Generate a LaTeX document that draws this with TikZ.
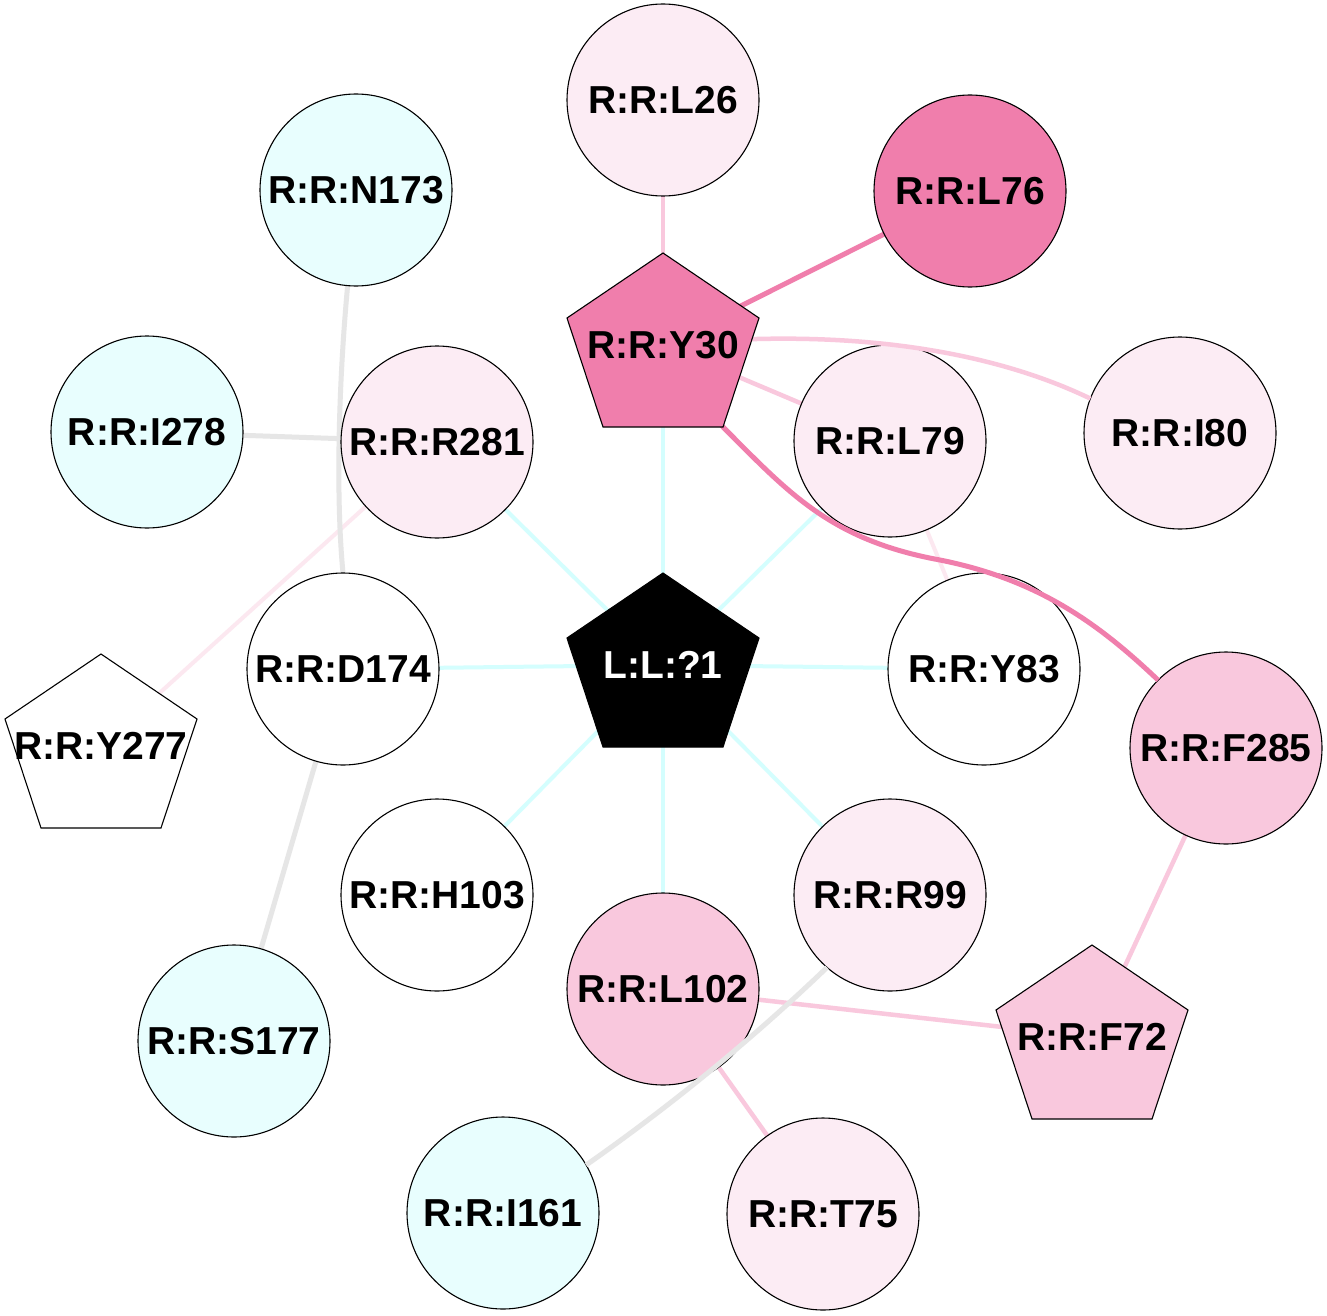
\documentclass[tikz,border=0pt]{standalone}
\usepackage{fontspec}
\setmainfont{Liberation Sans}
\usetikzlibrary{backgrounds,calc}
\definecolor{cfill}{RGB}{232,254,254}
\definecolor{pl}{RGB}{252,236,244}
\definecolor{pm}{RGB}{249,200,221}
\definecolor{pd}{RGB}{240,126,172}
\definecolor{ecyan}{RGB}{212,254,254}
\definecolor{egray}{RGB}{230,230,230}
\definecolor{epale}{RGB}{252,232,240}
\pgfdeclarelayer{bgzero}
\pgfdeclarelayer{fore}
\pgfsetlayers{bgzero,background,main,fore}
\newcommand\drawpent[3]{\draw[pentline,fill=#3,shift={(#1,#2)}] (0,-92) -- (96,-27) -- (60,82) -- (-60,82) -- (-96,-27) -- cycle;}
\begin{document}
\begin{tikzpicture}[x=1pt,y=-1pt,
  lbl/.style={circle, minimum size=192pt, inner sep=0pt, outer sep=0pt, font=\fontsize{39}{41}\selectfont\bfseries},
  res/.style={lbl, draw=black, line width=1.1pt},
  pentline/.style={draw=black, line width=1.1pt, line join=miter},
  ecy/.style={draw=ecyan, line width=4pt},
  epk/.style={draw=pm, line width=4.5pt},
  edk/.style={draw=pd, line width=5pt},
  egr/.style={draw=egray, line width=5pt},
  epa/.style={draw=epale, line width=4pt}
]
\useasboundingbox (0,0) rectangle (1327,1316);
\begin{pgfonlayer}{bgzero}
\fill[white] (0,0) rectangle (1327,1316);
\end{pgfonlayer}

% circles
\node[res, fill=pl]    (L26)  at (663,100)  {R:R:L26};
\node[res, fill=pd]    (L76)  at (970,191)  {R:R:L76};
\node[res, fill=cfill] (N173) at (356,190)  {R:R:N173};
\node[res, fill=cfill] (I278) at (147,432)  {R:R:I278};
\node[res, fill=pl]    (R281) at (437,442)  {R:R:R281};
\node[res, fill=pl]    (L79)  at (890,441)  {R:R:L79};
\node[res, fill=pl]    (I80)  at (1180,433) {R:R:I80};
\node[res, fill=white] (D174) at (343,669)  {R:R:D174};
\node[res, fill=white] (Y83)  at (984,669)  {R:R:Y83};
\node[res, fill=pm]    (F285) at (1226,748) {R:R:F285};
\node[res, fill=white] (H103) at (437,895)  {R:R:H103};
\node[res, fill=pl]    (R99)  at (890,895)  {R:R:R99};
\node[res, fill=pm]    (L102) at (663,989)  {R:R:L102};
\node[res, fill=cfill] (S177) at (234,1041) {R:R:S177};
\node[res, fill=cfill] (I161) at (503,1213) {R:R:I161};
\node[res, fill=pl]    (T75)  at (823,1214) {R:R:T75};

% pentagons (top layer)
\begin{pgfonlayer}{fore}
\drawpent{663}{345}{pd}
\node[lbl] (Y30) at (663,345) {R:R:Y30};
\drawpent{663}{665}{black}
\node[lbl, text=white] (L1) at (663,665) {L:L:?1};
\drawpent{101}{746}{white}
\node[lbl] (Y277) at (101,746) {R:R:Y277};
\drawpent{1092}{1037}{pm}
\node[lbl] (F72) at (1092,1037) {R:R:F72};
\end{pgfonlayer}

% edges behind nodes
\begin{pgfonlayer}{background}
\draw[ecy] (L1.center) -- (R281);
\draw[ecy] (L1.center) -- (Y30.center);
\draw[ecy] (L1.center) -- (L79);
\draw[ecy] (L1.center) -- (D174);
\draw[ecy] (L1.center) -- (Y83);
\draw[ecy] (L1.center) -- (H103);
\draw[ecy] (L1.center) -- (R99);
\draw[ecy] (L1.center) -- (L102);
\draw[epa] (R281) -- (Y277.center);
\draw[epa] (L79) -- (Y83);
\draw[egr] (I278) -- (R281);
\draw[egr] (N173.265) .. controls (338,390) and (336,500) .. (D174.north);
\draw[egr] (D174) -- (S177);
\draw[epk] (L26) -- (Y30.center);
\draw[epk] (Y30.center) -- (L79);
\draw[epk] (F285) -- (F72.center);
\draw[epk] (L102) -- (F72.center);
\draw[epk] (L102) -- (T75);
\draw[edk] (L76) -- (Y30.center);
\end{pgfonlayer}

% edges drawn over circle nodes
\draw[epk] (Y30.center) .. controls (860,325) and (1000,355) .. (I80.159);
\draw[edk] (Y30.center) -- ($(Y30.center)+(60,82)$) .. controls (788,492) and (830,540) .. (940,560)
  .. controls (1040,580) and (1100,625) .. (F285.135);
\draw[egr] (R99.229) .. controls (747,1044) and (666,1109) .. (I161.30);
\end{tikzpicture}
\end{document}
